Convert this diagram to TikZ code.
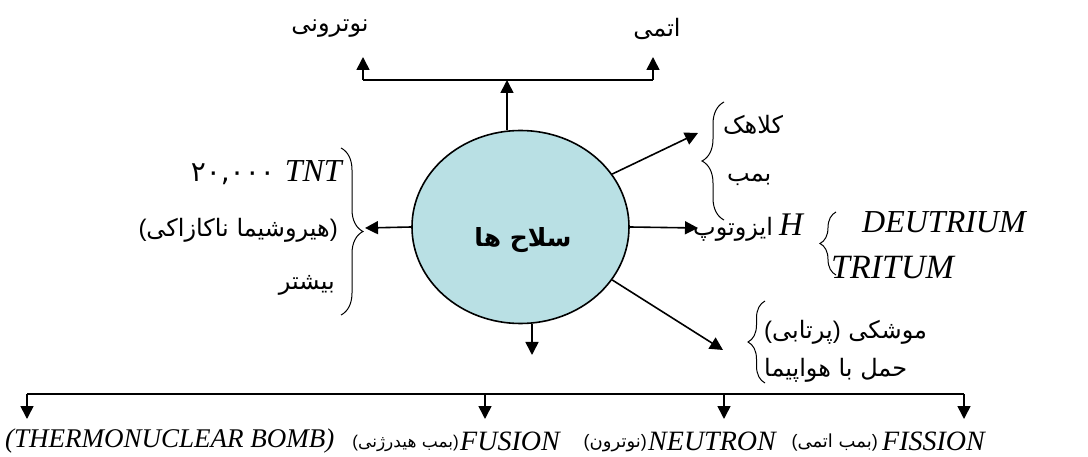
\documentclass[tikz,border=0pt]{standalone}
\usepackage{fontspec}
\setmainfont{Liberation Serif}
\newfontfamily\fa[Script=Arabic]{DejaVu Sans}
\newfontfamily\pf{Liberation Sans}
\usetikzlibrary{arrows.meta,decorations.pathreplacing,shapes.geometric}
\newcommand\w[1]{\hbox{\fa #1}}
\newcommand\po{\hbox{\pf (}}
\newcommand\pc{\hbox{\pf )}}
\newcommand\lt[1]{{\rmfamily\itshape #1}}
\definecolor{bubble}{RGB}{185,224,228}
\begin{document}
\begin{tikzpicture}[x=1pt,y=-1pt,
  ln/.style={line width=1.6pt},
  arr/.style={line width=1.6pt,-{Triangle[length=13pt,width=13pt]}},
  brc/.style={line width=1pt, decorate, decoration={brace,amplitude=#1}},
  fa/.style={inner sep=0pt, font=\fa\fontsize{24}{28}\selectfont},
  la/.style={inner sep=0pt, font=\rmfamily\itshape\fontsize{32}{36}\selectfont},
  lb/.style={inner sep=0pt, font=\rmfamily\itshape\fontsize{28}{32}\selectfont},
  fb/.style={inner sep=0pt, font=\fa\fontsize{18}{22}\selectfont},
]
\useasboundingbox (0,0) rectangle (1088,457);
% central ellipse
\node[ellipse, draw, line width=1.6pt, fill=bubble, minimum width=217pt, minimum height=193pt, inner sep=0pt] (ell) at (520.5,227) {};
\node[inner sep=0pt, font=\fa\bfseries\fontsize{25}{29}\selectfont] (title) at (523,240) {\w{ها}\ \w{سلاح}};
% top
\coordinate (tj) at (507,80);
\coordinate (tl) at (363,80);
\coordinate (tr) at (653,80);
\coordinate (tlt) at (363,57);
\coordinate (trt) at (653,57);
\draw[arr] (ell.north -| tj) -- (tj);
\draw[ln] (tl) -- (tr);
\draw[arr] (tl) -- (tlt);
\draw[arr] (tr) -- (trt);
\node[fa] (nt) at (330,29) {\w{نوترونی}};
\node[fa] (atm) at (657,29) {\w{اتمی}};
% left
\coordinate (lft) at (365,228);
\draw[arr] (ell.west) -- (lft);
\draw[brc=22pt] (341,148) -- (341,315);
\node[inner sep=0pt, anchor=east] (tnt) at (342,173) {{\fontsize{28}{30}\selectfont\w{۲۰,۰۰۰}}\hspace{10pt}\lt{\fontsize{32}{36}\selectfont TNT}};
\node[fa, anchor=east] (hiro) at (338,230) {\po\w{ناکازاکی}\ \w{هیروشیما}\pc};
\node[fa, anchor=east] (bish) at (335,285) {\w{بیشتر}};
% right top
\coordinate (rt1) at (698,133);
\draw[arr] (ell.30) -- (rt1);
\draw[brc=22pt] (724,220) -- (724,102);
\node[fa, anchor=west] (kol) at (723,125) {\w{کلاهک}};
\node[fa, anchor=west] (bmb) at (727,180) {\w{بمب}};
% right middle
\coordinate (rt2) at (698,228);
\draw[arr] (ell.east) -- (rt2);
\node[inner sep=0pt, anchor=west] (iso) at (693,228) {{\fontsize{24}{28}\selectfont\w{ایزوتوپ}}\hspace{6pt}\lt{\fontsize{33}{36}\selectfont H}};
\draw[brc=16pt] (836,275) -- (836,212);
\node[la, anchor=west] (deu) at (862,222) {DEUTRIUM};
\node[la, anchor=west, font=\rmfamily\itshape\fontsize{34}{38}\selectfont] (tri) at (831,268) {TRITUM};
% right lower
\coordinate (rt3) at (723,350);
\draw[arr] (ell.-30) -- (rt3);
\draw[brc=17pt] (765,383) -- (765,301);
\node[fa, anchor=west] (mos) at (764,332) {\po\w{پرتابی}\pc\ \w{موشکی}};
\node[fa, anchor=west] (haml) at (764,370) {\w{هواپیما}\ \w{با}\ \w{حمل}};
% bottom
\coordinate (bc) at (532,355);
\draw[arr] (ell.south -| bc) -- (bc);
\coordinate (b1) at (27,394);
\coordinate (b2) at (485,394);
\coordinate (b3) at (724,394);
\coordinate (b4) at (964,394);
\draw[ln] (b1) -- (b4);
\foreach \c in {b1,b2,b3,b4} \draw[arr] (\c) -- ++(0,25);
\node[lb, anchor=east] (fis) at (985,441) {FISSION};
\node[fb, anchor=east] (fisf) at (878,443) {\po\w{اتمی}\ \w{بمب}\pc};
\node[lb, anchor=east] (neu) at (776,441) {NEUTRON};
\node[fb, anchor=east] (neuf) at ([xshift=-1pt]neu.west |- fisf) {\po\w{نوترون}\pc};
\node[lb, anchor=west] (fus) at (460,441) {FUSION};
\node[fb, anchor=east, font=\fa\fontsize{17}{20}\selectfont] (fusf) at ([xshift=-1pt]fus.west |- fisf) {\po\w{هیدرژنی}\ \w{بمب}\pc};
\node[lb, anchor=west, font=\rmfamily\itshape\fontsize{27}{30}\selectfont] (thermo) at (5,441) {(THERMONUCLEAR BOMB)};
\end{tikzpicture}
\end{document}
